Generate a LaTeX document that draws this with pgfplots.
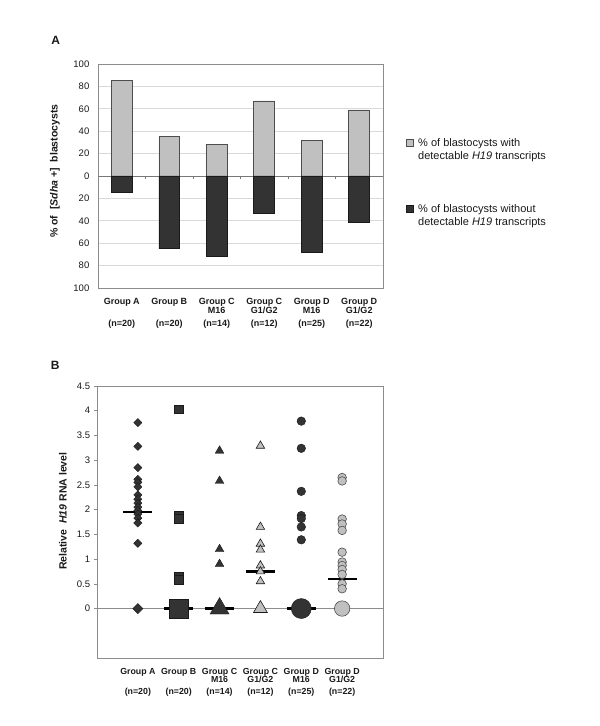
\documentclass[border=0pt]{standalone}
\usepackage{fontspec}
\setmainfont{Liberation Sans}
\usepackage{pgfplots}
\pgfplotsset{compat=1.18}
\definecolor{darkbar}{HTML}{333333}
\definecolor{lightbar}{HTML}{C0C0C0}
\definecolor{framegray}{HTML}{8C8C8C}
\definecolor{gridgray}{HTML}{DADADA}
\definecolor{txt}{HTML}{1A1A1A}
\definecolor{edgedark}{HTML}{1A1A1A}
\definecolor{edgelight}{HTML}{4D4D4D}

\begin{document}
\begin{tikzpicture}[x=1pt,y=1pt]
\path[use as bounding box, fill=white] (0,0) rectangle (600,726);

% ---------------- Panel A ----------------
\node[font=\fontsize{12}{14}\selectfont\bfseries, text=txt] at (55.7,685.2) {A};
\begin{axis}[
  at={(98pt,438pt)}, anchor=south west,
  scale only axis, width=285pt, height=224pt,
  xmin=-0.5, xmax=5.5, ymin=-100, ymax=100,
  axis line style={draw=framegray, line width=0.8pt},
  /pgf/number format/assume math mode=true,
  ytick={-100,-80,...,100},
  yticklabels={100,80,60,40,20,0,20,40,60,80,100},
  ymajorgrids, grid style={draw=gridgray, line width=0.6pt},
  tick align=inside, major tick length=0pt,
  yticklabel style={font=\fontsize{9.5}{11}\selectfont, text=txt, inner sep=0pt, anchor=east, xshift=-8.5pt},
  xtick={0,...,5},
  xticklabels={{Group A\\[13pt](n=20)},{Group B\\[13pt](n=20)},{Group C\\M16\\[3.7pt](n=14)},{Group C\\G1/G2\\[3.7pt](n=12)},{Group D\\M16\\[3.7pt](n=25)},{Group D\\G1/G2\\[3.7pt](n=22)}},
  xticklabel style={font=\fontsize{9}{9.3}\selectfont\bfseries, text=txt, align=center, anchor=north, inner sep=0pt, yshift=-9.7pt},
  ylabel={\%~of~~[\textit{Sdha}~+]~~blastocysts},
  ylabel style={font=\fontsize{10.5}{12}\selectfont\bfseries, text=txt, at={(axis description cs:-0.151,0.522)}, anchor=center},
  unbounded coords=jump,
  clip=false,
]
\addplot[draw=framegray!85!black, line width=0.8pt, forget plot] coordinates {(-0.5,0) (5.5,0)};
\addplot[draw=framegray!85!black, line width=0.6pt, forget plot] coordinates {
  (0.5,0) (0.5,-2.5) (0.5,nan)
  (1.5,0) (1.5,-2.5) (1.5,nan)
  (2.5,0) (2.5,-2.5) (2.5,nan)
  (3.5,0) (3.5,-2.5) (3.5,nan)
  (4.5,0) (4.5,-2.5)};
\addplot[ybar, bar width=0.44, bar shift=0pt, fill=lightbar, draw=edgelight, line width=0.6pt]
  coordinates {(0,85) (1,35) (2,28) (3,67) (4,32) (5,59)};
\addplot[ybar, bar width=0.44, bar shift=0pt, fill=darkbar, draw=edgedark, line width=0.6pt]
  coordinates {(0,-15) (1,-65) (2,-72) (3,-33) (4,-68) (5,-41)};
\end{axis}

% legend of panel A
\filldraw[fill=lightbar, draw=edgelight, line width=0.6pt] (406,579.35) rectangle (413.3,586.65);
\node[anchor=base west, inner sep=0pt, font=\fontsize{11}{12.7}\selectfont, text=txt] at (418,579) {\% of blastocysts with};
\node[anchor=base west, inner sep=0pt, font=\fontsize{11}{12.7}\selectfont, text=txt] at (418,566.3) {detectable \textit{H19} transcripts};
\filldraw[fill=darkbar, draw=edgedark, line width=0.6pt] (406,513.35) rectangle (413.3,520.65);
\node[anchor=base west, inner sep=0pt, font=\fontsize{11}{12.7}\selectfont, text=txt] at (418,513) {\% of blastocysts without};
\node[anchor=base west, inner sep=0pt, font=\fontsize{11}{12.7}\selectfont, text=txt] at (418,500.3) {detectable \textit{H19} transcripts};

% ---------------- Panel B ----------------
\node[font=\fontsize{12}{14}\selectfont\bfseries, text=txt] at (55.3,361) {B};
\begin{axis}[
  at={(97pt,68pt)}, anchor=south west,
  scale only axis, width=286pt, height=272pt,
  xmin=0, xmax=7, ymin=-1, ymax=4.5,
  axis line style={draw=framegray, line width=0.8pt},
  /pgf/number format/assume math mode=true,
  ytick={0,0.5,...,4.5},
  yticklabels={0,0.5,1,1.5,2,2.5,3,3.5,4,4.5},
  tick align=outside, major tick length=3pt,
  ytick pos=left,
  ytick style={draw=framegray, line width=0.6pt},
  xtick style={draw=none},
  yticklabel style={font=\fontsize{9.5}{11}\selectfont, text=txt, inner sep=0pt, anchor=east, xshift=-3.7pt},
  xtick={1,...,6},
  xticklabels={{Group A\\[11.7pt](n=20)},{Group B\\[11.7pt](n=20)},{Group C\\M16\\[3.4pt](n=14)},{Group C\\G1/G2\\[3.4pt](n=12)},{Group D\\M16\\[3.4pt](n=25)},{Group D\\G1/G2\\[3.4pt](n=22)}},
  xticklabel style={font=\fontsize{8.8}{8.3}\selectfont\bfseries, text=txt, align=center, anchor=north, inner sep=0pt, yshift=-7pt},
  ylabel={Relative~~\textit{H19}~RNA level},
  ylabel style={font=\fontsize{10.5}{12}\selectfont\bfseries, text=txt, at={(axis description cs:-0.119,0.540)}, anchor=center},
  unbounded coords=jump,
  clip=false,
]
\addplot[draw=framegray, line width=0.8pt, forget plot] coordinates {(0,0) (7,0)};
% Group A diamonds
\addplot[only marks, mark=square*, mark size=2.9pt, mark options={rotate=45, fill=darkbar, draw=edgedark, line width=0.4pt}]
  coordinates {(1,3.76) (1,3.28) (1,2.85) (1,2.61) (1,2.55) (1,2.46) (1,2.30) (1,2.21) (1,2.13) (1,2.05) (1,1.98) (1,1.91) (1,1.83) (1,1.73) (1,1.32)};
\addplot[only marks, mark=square*, mark size=3.6pt, mark options={rotate=45, fill=darkbar, draw=edgedark, line width=0.4pt}]
  coordinates {(1,0)};
% Group B squares
\addplot[only marks, mark=square*, mark size=4.3pt, mark options={fill=darkbar, draw=edgedark, line width=0.4pt}]
  coordinates {(2,4.03) (2,1.88) (2,1.82) (2,0.64) (2,0.58)};
\addplot[only marks, mark=square*, mark size=9.2pt, mark options={fill=darkbar, draw=edgedark, line width=0.4pt}]
  coordinates {(2,0)};
% Group C M16 dark triangles
\addplot[only marks, mark=triangle*, mark size=5pt, mark options={fill=darkbar, draw=edgedark, line width=0.4pt}]
  coordinates {(3,3.19) (3,2.58) (3,1.20) (3,0.90)};
\addplot[only marks, mark=triangle*, mark size=11pt, mark options={fill=darkbar, draw=edgedark, line width=0.4pt}]
  coordinates {(3,0)};
% Group C G1/G2 light triangles
\addplot[only marks, mark=triangle*, mark size=4.9pt, mark options={fill=lightbar, draw=edgedark, line width=0.6pt}]
  coordinates {(4,3.29) (4,1.65) (4,1.31) (4,1.19) (4,0.87) (4,0.75) (4,0.55)};
\addplot[only marks, mark=triangle*, mark size=8pt, mark options={fill=lightbar, draw=edgedark, line width=0.6pt}]
  coordinates {(4,0)};
% Group D M16 dark circles
\addplot[only marks, mark=*, mark size=4.3pt, mark options={fill=darkbar, draw=edgedark, line width=0.4pt}]
  coordinates {(5,3.79) (5,3.24) (5,2.37) (5,1.88) (5,1.82) (5,1.65) (5,1.39)};
\addplot[only marks, mark=*, mark size=10pt, mark options={fill=darkbar, draw=edgedark, line width=0.4pt}]
  coordinates {(5,0)};
% Group D G1/G2 light circles
\addplot[only marks, mark=*, mark size=4.3pt, mark options={fill=lightbar, draw=edgelight, line width=0.6pt}]
  coordinates {(6,2.65) (6,2.58) (6,1.81) (6,1.71) (6,1.58) (6,1.14) (6,0.94) (6,0.87) (6,0.79) (6,0.69) (6,0.50) (6,0.40)};
\addplot[only marks, mark=*, mark size=7.7pt, mark options={fill=lightbar, draw=edgelight, line width=0.6pt}]
  coordinates {(6,0)};
% mean lines
\addplot[black, line width=2.2pt] coordinates {
  (0.645,1.96) (1.355,1.96) (1.5,nan)
  (1.645,0) (2.355,0) (2.5,nan)
  (2.645,0) (3.355,0) (3.5,nan)
  (3.645,0.75) (4.355,0.75) (4.5,nan)
  (4.645,0) (5.355,0) (5.5,nan)
  (5.645,0.60) (6.355,0.60)};
\end{axis}
\end{tikzpicture}
\end{document}
